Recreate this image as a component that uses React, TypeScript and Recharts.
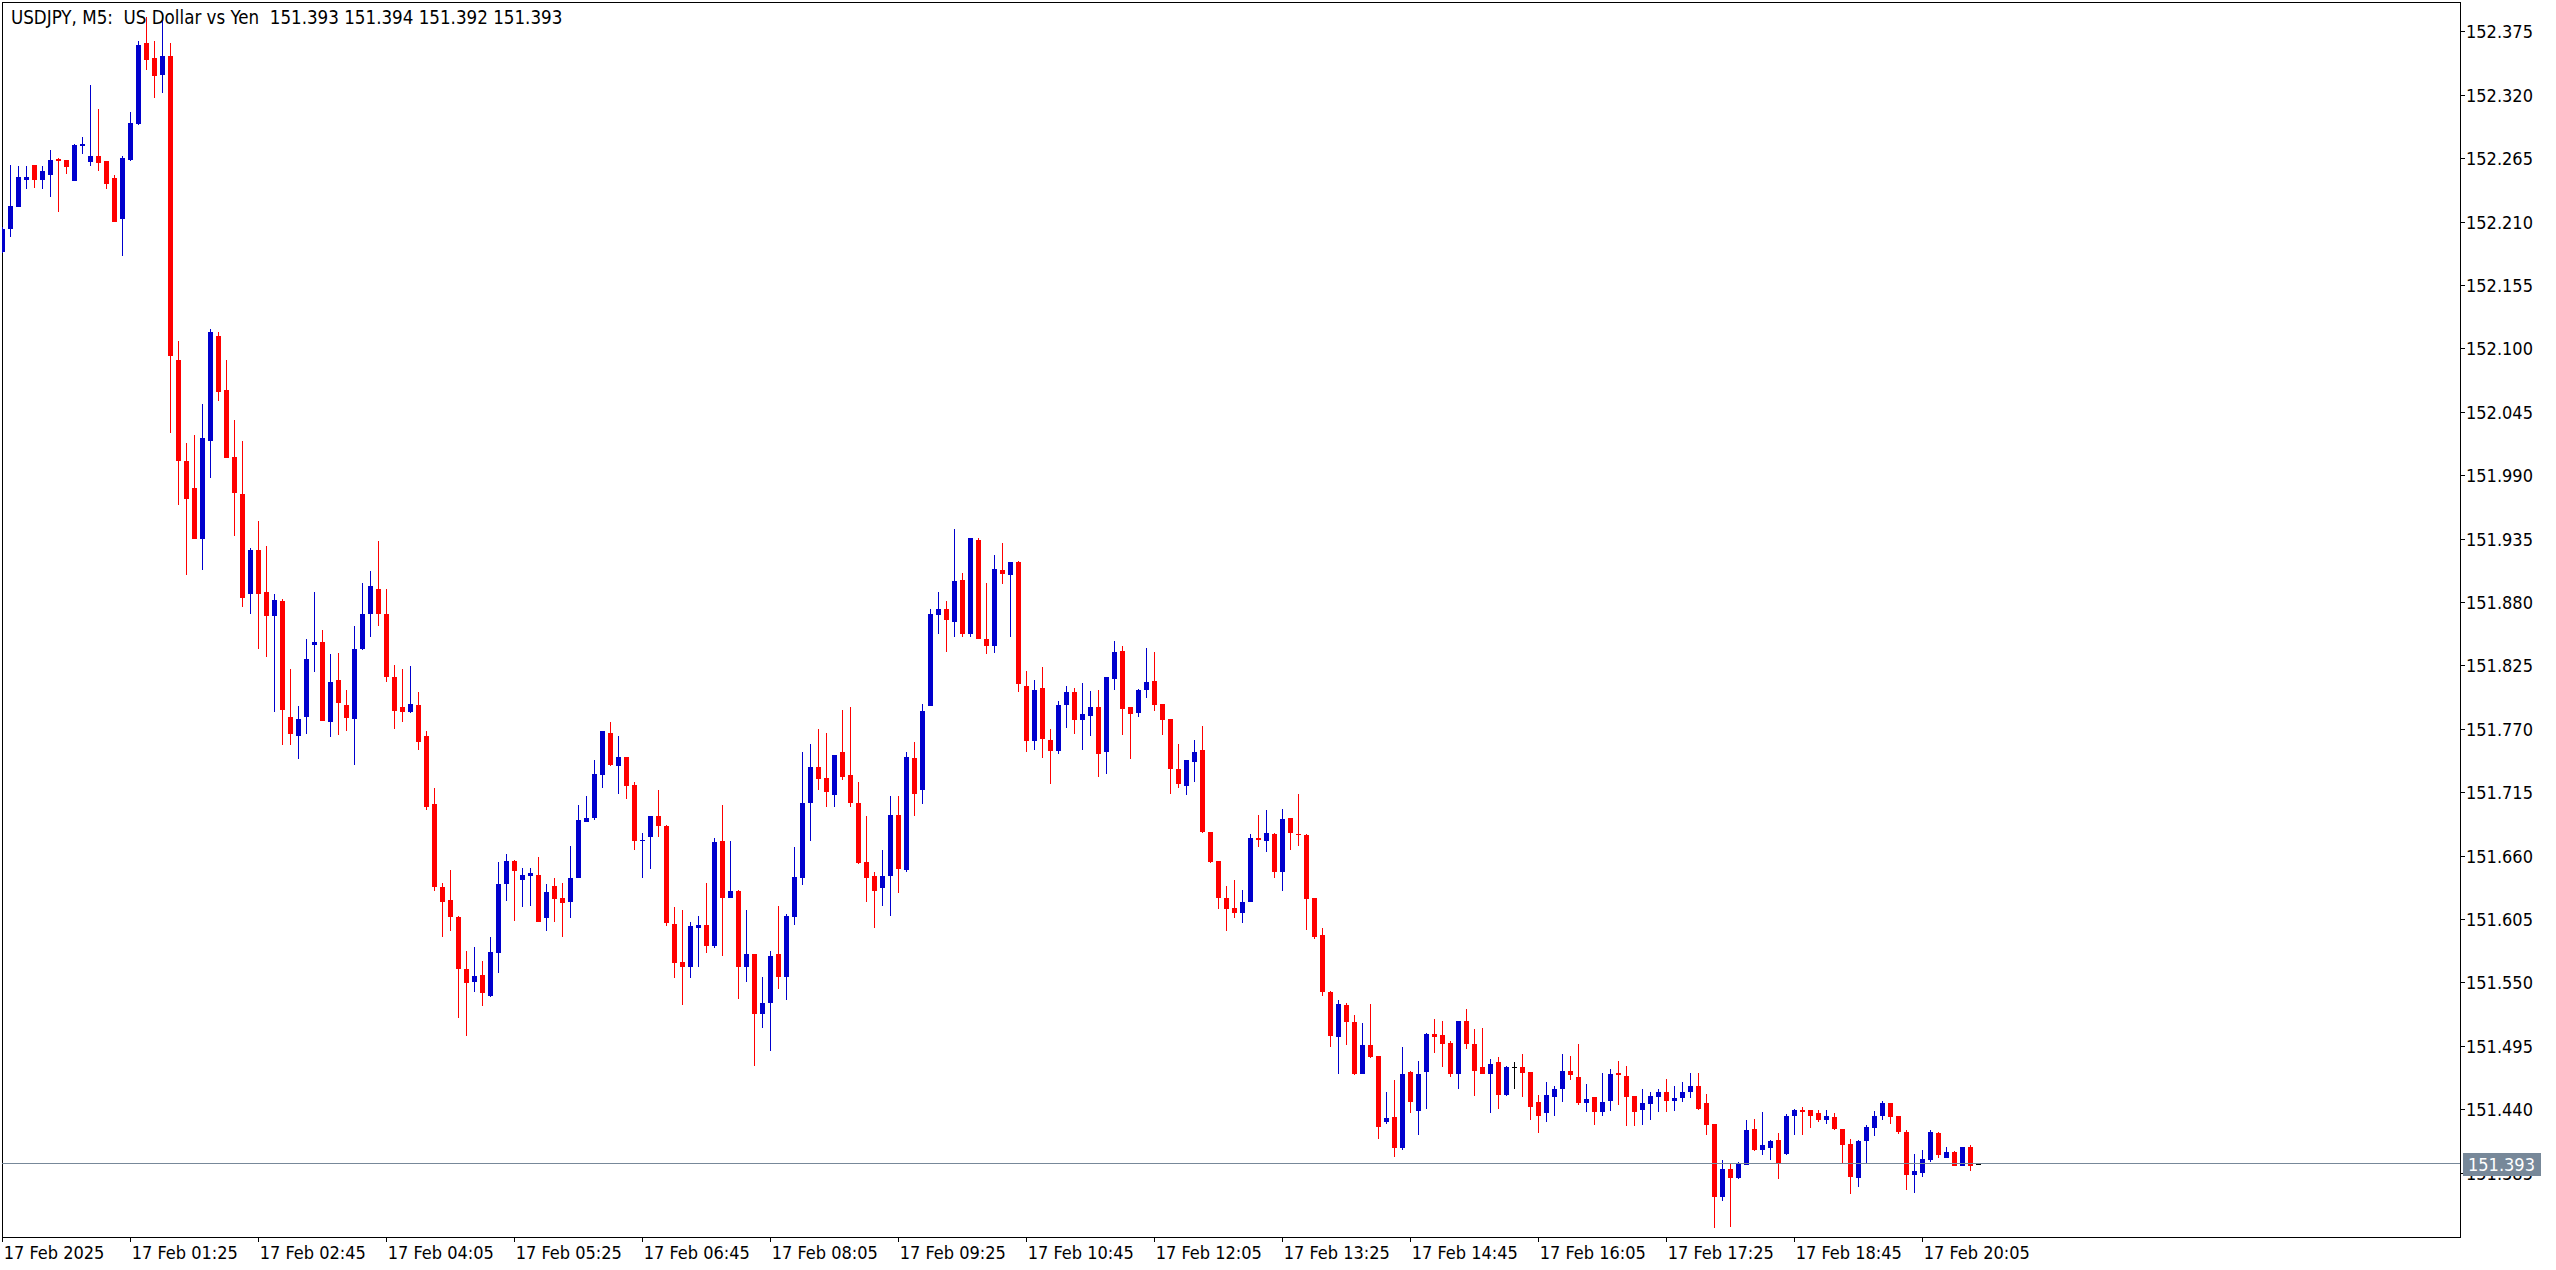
import React from "react"
import {
  ComposedChart,
  Bar,
  XAxis,
  YAxis,
  ReferenceArea,
  ReferenceLine,
} from "recharts"

// USDJPY M5 candles, 17 Feb 00:05 .. 20:40
const opens = [
  152.184, 152.204, 152.223, 152.247, 152.260, 152.247, 152.251, 152.265, 152.264, 152.246,
  152.276, 152.262, 152.267, 152.263, 152.248, 152.213, 152.264, 152.295, 152.365, 152.352,
  152.338, 152.354, 152.090, 152.003, 151.979, 151.935, 152.020, 152.111, 152.064, 152.006,
  151.974, 151.887, 151.926, 151.889, 151.868, 151.881, 151.781, 151.764, 151.781, 151.843,
  151.846, 151.776, 151.813, 151.791, 151.779, 151.840, 151.870, 151.892, 151.870, 151.815,
  151.789, 151.785, 151.791, 151.764, 151.705, 151.633, 151.622, 151.607, 151.562, 151.551,
  151.557, 151.539, 151.576, 151.636, 151.656, 151.639, 151.643, 151.644, 151.606, 151.634,
  151.624, 151.620, 151.641, 151.690, 151.693, 151.730, 151.767, 151.738, 151.746, 151.722,
  151.673, 151.677, 151.695, 151.686, 151.601, 151.568, 151.564, 151.598, 151.600, 151.582,
  151.673, 151.624, 151.630, 151.564, 151.575, 151.523, 151.533, 151.575, 151.555, 151.607,
  151.641, 151.706, 151.737, 151.728, 151.713, 151.750, 151.730, 151.706, 151.655, 151.643,
  151.632, 151.643, 151.696, 151.648, 151.745, 151.717, 151.790, 151.869, 151.874, 151.863,
  151.900, 151.853, 151.934, 151.848, 151.842, 151.908, 151.904, 151.915, 151.808, 151.760,
  151.806, 151.761, 151.751, 151.791, 151.802, 151.778, 151.782, 151.789, 151.750, 151.814,
  151.838, 151.789, 151.784, 151.804, 151.812, 151.792, 151.779, 151.736, 151.721, 151.742,
  151.752, 151.681, 151.656, 151.624, 151.615, 151.611, 151.620, 151.676, 151.673, 151.679,
  151.646, 151.693, 151.679, 151.678, 151.624, 151.592, 151.542, 151.503, 151.531, 151.516,
  151.471, 151.496, 151.487, 151.429, 151.434, 151.407, 151.473, 151.439, 151.473, 151.506,
  151.505, 151.498, 151.471, 151.517, 151.497, 151.477, 151.471, 151.481, 151.453, 151.477,
  151.477, 151.473, 151.447, 151.437, 151.451, 151.458, 151.474, 151.468, 151.446, 151.451,
  151.438, 151.448, 151.472, 151.469, 151.452, 151.440, 151.445, 151.451, 151.455, 151.448,
  151.450, 151.455, 151.461, 151.446, 151.428, 151.364, 151.389, 151.381, 151.392, 151.423,
  151.405, 151.407, 151.414, 151.402, 151.435, 151.440, 151.440, 151.437, 151.431, 151.434,
  151.423, 151.410, 151.381, 151.413, 151.424, 151.435, 151.446, 151.435, 151.421, 151.383,
  151.385, 151.396, 151.420, 151.398, 151.403, 151.391, 151.408, 151.393,
]
const highs = [
  152.206, 152.260, 152.259, 152.259, 152.260, 152.259, 152.273, 152.266, 152.264, 152.278,
  152.284, 152.329, 152.308, 152.263, 152.251, 152.267, 152.306, 152.367, 152.388, 152.367,
  152.390, 152.365, 152.107, 152.018, 152.025, 152.052, 152.117, 152.115, 152.090, 152.038,
  152.020, 151.927, 151.951, 151.929, 151.887, 151.883, 151.822, 151.790, 151.848, 151.889,
  151.856, 151.835, 151.836, 151.804, 151.860, 151.897, 151.907, 151.933, 151.892, 151.826,
  151.822, 151.825, 151.802, 151.769, 151.719, 151.637, 151.648, 151.608, 151.578, 151.581,
  151.569, 151.590, 151.655, 151.662, 151.657, 151.650, 151.650, 151.659, 151.636, 151.641,
  151.637, 151.669, 151.704, 151.712, 151.743, 151.769, 151.776, 151.764, 151.746, 151.724,
  151.680, 151.695, 151.717, 151.687, 151.616, 151.613, 151.603, 151.608, 151.637, 151.676,
  151.704, 151.673, 151.631, 151.613, 151.575, 151.555, 151.578, 151.617, 151.610, 151.668,
  151.750, 151.757, 151.770, 151.767, 151.748, 151.787, 151.789, 151.724, 151.695, 151.646,
  151.665, 151.712, 151.712, 151.750, 151.759, 151.792, 151.874, 151.889, 151.881, 151.944,
  151.906, 151.936, 151.936, 151.897, 151.921, 151.932, 151.915, 151.916, 151.821, 151.813,
  151.824, 151.770, 151.795, 151.808, 151.806, 151.810, 151.803, 151.804, 151.815, 151.847,
  151.842, 151.789, 151.805, 151.841, 151.837, 151.792, 151.779, 151.757, 151.743, 151.761,
  151.773, 151.681, 151.656, 151.634, 151.639, 151.631, 151.679, 151.696, 151.700, 151.680,
  151.701, 151.693, 151.714, 151.679, 151.624, 151.598, 151.543, 151.535, 151.533, 151.522,
  151.515, 151.532, 151.487, 151.455, 151.466, 151.494, 151.474, 151.482, 151.507, 151.519,
  151.517, 151.500, 151.517, 151.527, 151.510, 151.511, 151.484, 151.486, 151.478, 151.481,
  151.488, 151.473, 151.453, 151.464, 151.461, 151.488, 151.487, 151.497, 151.462, 151.451,
  151.472, 151.475, 151.482, 151.478, 151.452, 151.458, 151.455, 151.458, 151.467, 151.461,
  151.464, 151.472, 151.472, 151.454, 151.428, 151.396, 151.393, 151.395, 151.431, 151.432,
  151.438, 151.414, 151.420, 151.436, 151.441, 151.442, 151.440, 151.440, 151.440, 151.437,
  151.423, 151.415, 151.414, 151.427, 151.439, 151.448, 151.446, 151.435, 151.422, 151.402,
  151.405, 151.422, 151.421, 151.408, 151.404, 151.408, 151.409, 151.394,
]
const lows = [
  152.183, 152.197, 152.223, 152.239, 152.240, 152.239, 152.232, 152.219, 152.252, 152.246,
  152.269, 152.259, 152.254, 152.239, 152.210, 152.181, 152.263, 152.294, 152.342, 152.318,
  152.322, 152.027, 151.965, 151.904, 151.935, 151.908, 151.988, 152.055, 152.005, 151.938,
  151.876, 151.870, 151.840, 151.833, 151.785, 151.756, 151.756, 151.744, 151.766, 151.820,
  151.777, 151.763, 151.765, 151.769, 151.739, 151.839, 151.850, 151.860, 151.811, 151.770,
  151.776, 151.784, 151.752, 151.700, 151.630, 151.590, 151.595, 151.520, 151.504, 151.542,
  151.530, 151.538, 151.559, 151.621, 151.604, 151.616, 151.617, 151.603, 151.595, 151.603,
  151.590, 151.606, 151.641, 151.690, 151.691, 151.719, 151.738, 151.714, 151.710, 151.665,
  151.641, 151.649, 151.677, 151.599, 151.554, 151.531, 151.554, 151.564, 151.576, 151.580,
  151.573, 151.624, 151.536, 151.551, 151.478, 151.511, 151.491, 151.545, 151.535, 151.600,
  151.635, 151.673, 151.717, 151.703, 151.703, 151.726, 151.703, 151.653, 151.620, 151.598,
  151.617, 151.608, 151.628, 151.646, 151.695, 151.705, 151.790, 151.853, 151.837, 151.850,
  151.850, 151.850, 151.848, 151.835, 151.836, 151.896, 151.850, 151.802, 151.750, 151.752,
  151.745, 151.723, 151.749, 151.771, 151.766, 151.752, 151.764, 151.729, 151.731, 151.804,
  151.765, 151.744, 151.781, 151.797, 151.786, 151.765, 151.714, 151.719, 151.713, 151.724,
  151.680, 151.654, 151.614, 151.595, 151.606, 151.602, 151.620, 151.668, 151.664, 151.641,
  151.630, 151.665, 151.669, 151.596, 151.588, 151.539, 151.494, 151.471, 151.496, 151.470,
  151.471, 151.485, 151.415, 151.428, 151.399, 151.405, 151.437, 151.418, 151.441, 151.489,
  151.477, 151.468, 151.458, 151.493, 151.452, 151.471, 151.437, 151.441, 151.452, 151.458,
  151.451, 151.431, 151.420, 151.429, 151.435, 151.447, 151.466, 151.444, 151.438, 151.427,
  151.435, 151.439, 151.444, 151.426, 151.426, 151.427, 151.431, 151.438, 151.438, 151.439,
  151.447, 151.450, 151.440, 151.418, 151.337, 151.361, 151.338, 151.380, 151.392, 151.404,
  151.401, 151.396, 151.380, 151.401, 151.418, 151.418, 151.424, 151.429, 151.428, 151.422,
  151.393, 151.367, 151.373, 151.393, 151.417, 151.431, 151.428, 151.419, 151.370, 151.368,
  151.382, 151.395, 151.398, 151.398, 151.391, 151.391, 151.387, 151.392,
]
const closes = [
  152.204, 152.224, 152.249, 152.249, 152.247, 152.254, 152.264, 152.263, 152.258, 152.277,
  152.278, 152.267, 152.261, 152.243, 152.210, 152.266, 152.296, 152.364, 152.351, 152.337,
  152.354, 152.094, 152.003, 151.970, 151.935, 152.023, 152.115, 152.063, 152.005, 151.975,
  151.884, 151.926, 151.887, 151.868, 151.882, 151.787, 151.766, 151.779, 151.831, 151.846,
  151.777, 151.811, 151.793, 151.780, 151.840, 151.870, 151.894, 151.870, 151.815, 151.786,
  151.785, 151.792, 151.759, 151.703, 151.633, 151.620, 151.607, 151.562, 151.550, 151.556,
  151.541, 151.577, 151.636, 151.656, 151.647, 151.644, 151.645, 151.603, 151.629, 151.623,
  151.619, 151.641, 151.691, 151.693, 151.731, 151.769, 151.739, 151.746, 151.721, 151.673,
  151.674, 151.695, 151.686, 151.602, 151.567, 151.564, 151.599, 151.600, 151.582, 151.672,
  151.624, 151.630, 151.564, 151.575, 151.523, 151.533, 151.573, 151.555, 151.608, 151.642,
  151.706, 151.737, 151.727, 151.716, 151.748, 151.729, 151.706, 151.654, 151.641, 151.630,
  151.643, 151.696, 151.649, 151.746, 151.714, 151.786, 151.870, 151.874, 151.865, 151.899,
  151.853, 151.936, 151.848, 151.842, 151.909, 151.905, 151.915, 151.809, 151.760, 151.804,
  151.762, 151.751, 151.791, 151.802, 151.778, 151.783, 151.789, 151.749, 151.815, 151.837,
  151.788, 151.783, 151.804, 151.811, 151.791, 151.778, 151.736, 151.723, 151.743, 151.750,
  151.681, 151.655, 151.624, 151.614, 151.611, 151.620, 151.676, 151.674, 151.680, 151.646,
  151.692, 151.680, 151.678, 151.623, 151.590, 151.542, 151.504, 151.532, 151.516, 151.471,
  151.496, 151.486, 151.425, 151.433, 151.407, 151.471, 151.447, 151.471, 151.506, 151.503,
  151.497, 151.471, 151.517, 151.497, 151.474, 151.471, 151.480, 151.453, 151.477, 151.477,
  151.472, 151.442, 151.435, 151.453, 151.458, 151.474, 151.470, 151.446, 151.449, 151.438,
  151.447, 151.471, 151.470, 151.451, 151.438, 151.446, 151.452, 151.455, 151.448, 151.450,
  151.455, 151.461, 151.441, 151.427, 151.364, 151.389, 151.381, 151.393, 151.422, 151.405,
  151.409, 151.413, 151.393, 151.435, 151.440, 151.438, 151.435, 151.431, 151.435, 151.423,
  151.409, 151.382, 151.413, 151.425, 151.435, 151.446, 151.434, 151.421, 151.383, 151.387,
  151.397, 151.421, 151.401, 151.403, 151.391, 151.408, 151.391, 151.393,
]

const timeTickIndex = [0, 16, 32, 48, 64, 80, 96, 112, 128, 144, 160, 176, 192, 208, 224, 240]
const timeLabels = [
  "17 Feb 2025", "17 Feb 01:25", "17 Feb 02:45", "17 Feb 04:05", "17 Feb 05:25",
  "17 Feb 06:45", "17 Feb 08:05", "17 Feb 09:25", "17 Feb 10:45", "17 Feb 12:05",
  "17 Feb 13:25", "17 Feb 14:45", "17 Feb 16:05", "17 Feb 17:25", "17 Feb 18:45",
  "17 Feb 20:05",
]
const priceTicks = [
  152.375, 152.32, 152.265, 152.21, 152.155, 152.1, 152.045, 151.99, 151.935, 151.88,
  151.825, 151.77, 151.715, 151.66, 151.605, 151.55, 151.495, 151.44, 151.385,
]
const symbol = "USDJPY"
const timeframe = "M5"
const description = "US Dollar vs Yen"
const bidPrice = 151.393

const xDomain: [number, number] = [-0.0875, 307.1625]
const yDomain: [number, number] = [151.3296, 152.401]

const UP = "#0000CD"
const DOWN = "#FF0000"
const DOJI = "#000000"
const TAG = "#778899"
const FONT = '"DejaVu Sans Condensed", "DejaVu Sans", sans-serif'

const data = opens.map((o, i) => ({
  i,
  o,
  h: highs[i],
  l: lows[i],
  c: closes[i],
  range: [lows[i], highs[i]],
}))

function Candle(props: any) {
  const { x, y, width, height, payload } = props
  if (x == null || !payload) return null
  const top = Math.min(y, y + height)
  const span = Math.abs(height)
  const { o, h, l, c } = payload
  const toY = (p: number) => top + ((h - p) / (h - l || 1)) * span
  const cx = Math.round(x + width / 2)
  const color = c > o ? UP : c < o ? DOWN : DOJI
  const bTop = Math.round(toY(Math.max(o, c)))
  const bBot = Math.round(toY(Math.min(o, c)))
  const wTop = Math.round(top)
  const wBot = Math.round(top + span)
  return (
    <g shapeRendering="crispEdges">
      <rect x={cx} y={wTop} width={1} height={Math.max(1, wBot - wTop)} fill={color} />
      <rect x={cx - 2} y={bTop} width={5} height={Math.max(1, bBot - bTop)} fill={color} />
    </g>
  )
}

function TimeTick({ x, y, payload }: any) {
  const idx = timeTickIndex.indexOf(payload.value)
  return (
    <text x={x + 1} y={y + 15} fontSize={18} fontFamily={FONT} fill="#000">
      {timeLabels[idx]}
    </text>
  )
}

function PriceTick({ x, y, payload }: any) {
  return (
    <text x={x - 1} y={y + 6.5} fontSize={18} fontFamily={FONT} fill="#000">
      {Number(payload.value).toFixed(3)}
    </text>
  )
}

function BidTag({ viewBox }: any) {
  if (!viewBox) return null
  const right = viewBox.x + viewBox.width
  const yy = Math.round(viewBox.y)
  return (
    <g>
      <rect x={right + 3} y={yy - 11} width={78} height={23} fill={TAG} shapeRendering="crispEdges" />
      <text x={right + 8} y={yy + 6.5} fontSize={18} fontFamily={FONT} fill="#fff">
        {bidPrice.toFixed(3)}
      </text>
    </g>
  )
}

export default function App() {
  const last = opens.length - 1
  const title = `${symbol}, ${timeframe}:  ${description}  ${opens[last].toFixed(3)} ${highs[last].toFixed(3)} ${lows[last].toFixed(3)} ${closes[last].toFixed(3)}`
  return (
    <div
      style={{
        position: "fixed",
        left: 0,
        top: 0,
        width: 2556,
        height: 1270,
        background: "#fff",
        overflow: "hidden",
      }}
    >
      <ComposedChart
        width={2556}
        height={1270}
        data={data}
        margin={{ top: 2, right: 0, left: 2, bottom: 0 }}
      >
        <XAxis
          type="number"
          dataKey="i"
          domain={xDomain}
          ticks={timeTickIndex}
          interval={0}
          allowDataOverflow
          height={33}
          tickSize={5}
          axisLine={false}
          tickLine={{ stroke: "#000", shapeRendering: "crispEdges" }}
          tick={<TimeTick />}
        />
        <YAxis
          orientation="right"
          width={96}
          domain={yDomain}
          ticks={priceTicks}
          interval={0}
          allowDataOverflow
          tickSize={5}
          axisLine={false}
          tickLine={{ stroke: "#000", shapeRendering: "crispEdges" }}
          tick={<PriceTick />}
        />
        <Bar
          dataKey="range"
          barSize={5}
          shape={(p: any) => <Candle {...p} />}
          isAnimationActive={false}
        />
        <ReferenceLine
          y={bidPrice}
          stroke={TAG}
          strokeWidth={1}
          shapeRendering="crispEdges"
          zIndex={2500}
          label={<BidTag />}
        />
        <ReferenceArea
          x1={xDomain[0]}
          x2={xDomain[1]}
          y1={yDomain[0]}
          y2={yDomain[1]}
          fill="none"
          fillOpacity={0}
          stroke="#000"
          strokeOpacity={1}
          shapeRendering="crispEdges"
          ifOverflow="visible"
        />
      </ComposedChart>
      <svg
        width={2556}
        height={40}
        style={{ position: "absolute", left: 0, top: 0, pointerEvents: "none" }}
      >
        <text x={11} y={24} fontSize={18.6} fontFamily={FONT} fill="#000" style={{ whiteSpace: "pre" }}>
          {title}
        </text>
      </svg>
    </div>
  )
}
